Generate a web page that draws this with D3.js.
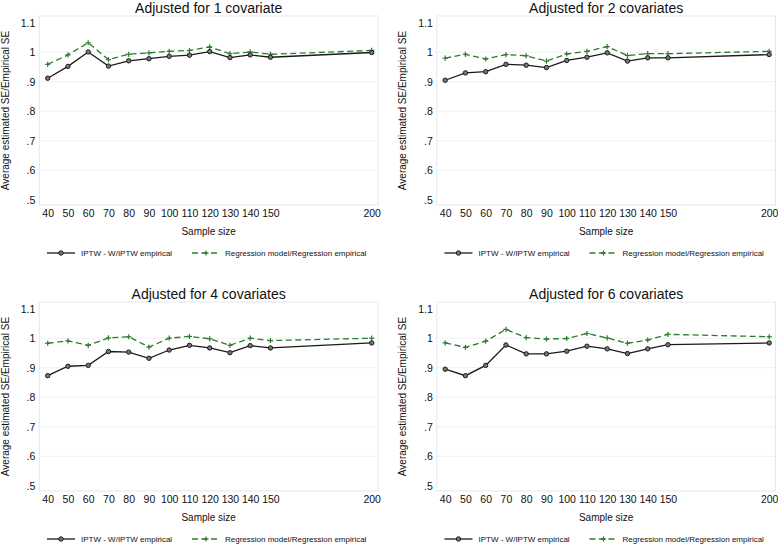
<!DOCTYPE html>
<html>
<head>
<meta charset="utf-8">
<script src="https://cdn.jsdelivr.net/npm/d3@7"></script>
<style>
  html, body { margin: 0; padding: 0; background: #fff; }
  svg { display: block; font-family: "Liberation Sans", Arial, Helvetica, sans-serif; }
</style>
</head>
<body>
<svg id="chart" width="778" height="544"></svg>
<script>
// ---- data ----
const sampleSizes = [40, 50, 60, 70, 80, 90, 100, 110, 120, 130, 140, 150, 200];
const yTicks = [0.5, 0.6, 0.7, 0.8, 0.9, 1.0, 1.1];
const gridTicks = [0.6, 0.7, 0.8, 0.9, 1.0];
const titles = ["Adjusted for 1 covariate", "Adjusted for 2 covariates", "Adjusted for 4 covariates", "Adjusted for 6 covariates"];
const seriesNames = ["IPTW - W/IPTW empirical", "Regression model/Regression empirical"];

const iptw1 = [0.912, 0.952, 1.001, 0.953, 0.971, 0.978, 0.986, 0.990, 1.002, 0.982, 0.991, 0.983, 0.999];
const reg1  = [0.959, 0.991, 1.032, 0.975, 0.993, 0.998, 1.003, 1.006, 1.018, 0.995, 1.001, 0.993, 1.006];
const iptw2 = [0.905, 0.930, 0.934, 0.959, 0.956, 0.948, 0.972, 0.983, 0.998, 0.970, 0.981, 0.981, 0.992];
const reg2  = [0.980, 0.993, 0.977, 0.992, 0.988, 0.970, 0.994, 1.003, 1.019, 0.989, 0.995, 0.995, 1.003];
const iptw4 = [0.873, 0.905, 0.908, 0.955, 0.953, 0.932, 0.960, 0.976, 0.967, 0.951, 0.975, 0.967, 0.984];
const reg4  = [0.983, 0.991, 0.976, 1.001, 1.005, 0.970, 1.000, 1.006, 0.998, 0.976, 1.000, 0.992, 1.000];
const iptw6 = [0.895, 0.873, 0.908, 0.977, 0.947, 0.947, 0.956, 0.973, 0.964, 0.948, 0.964, 0.978, 0.984];
const reg6  = [0.984, 0.969, 0.990, 1.030, 1.002, 0.997, 0.999, 1.016, 1.001, 0.983, 0.994, 1.013, 1.005];

const panelIptw = [iptw1, iptw2, iptw4, iptw6];
const panelReg = [reg1, reg2, reg4, reg6];

// ---- layout ----
const svg = d3.select("#chart");
const frame = { left: 39.3, right: 378, top: 16, bottom: 205 };
const x = d3.scaleLinear().domain([40, 200]).range([47.7, 371.7]);
const y = d3.scaleLinear().domain([0.5, 1.1]).range([199.8, 22.7]);
const fmt = d => d === 1 ? "1" : (d > 1 ? "1.1" : d3.format(".1f")(d).replace(/^0/, ""));
const green = "#2b7d2b";
const dark = "#1a1a1a";

titles.forEach((title, i) => {
  const col = i % 2, row = Math.floor(i / 2);
  const g = svg.append("g").attr("transform", `translate(${col * 397.5},${row * 286})`);

  // frame
  g.append("rect")
    .attr("x", frame.left).attr("y", frame.top)
    .attr("width", frame.right - frame.left).attr("height", frame.bottom - frame.top)
    .attr("fill", "#fff").attr("stroke", "#e3e8ea").attr("stroke-width", 1);

  // grid
  g.selectAll(".grid").data(gridTicks).enter().append("line")
    .attr("x1", frame.left).attr("x2", frame.right)
    .attr("y1", d => y(d)).attr("y2", d => y(d))
    .attr("stroke", "#eef2f3").attr("stroke-width", 1);

  // y axis
  const yAxis = d3.axisLeft(y).tickValues(yTicks).tickFormat(fmt).tickSize(0).tickPadding(4);
  const ya = g.append("g").attr("transform", `translate(${frame.left},0)`).call(yAxis);
  ya.select(".domain").remove();
  ya.selectAll("text").attr("font-size", "10.5px").attr("fill", "#111")
    .attr("font-family", "Liberation Sans, Arial, sans-serif");

  // x axis
  const xAxis = d3.axisBottom(x).tickValues(sampleSizes).tickFormat(d3.format("d")).tickSize(0).tickPadding(5);
  const xa = g.append("g").attr("transform", `translate(0,${frame.bottom})`).call(xAxis);
  xa.select(".domain").remove();
  xa.selectAll("text").attr("font-size", "10.5px").attr("fill", "#111")
    .attr("font-family", "Liberation Sans, Arial, sans-serif");

  // titles
  const cx = (frame.left + frame.right) / 2;
  g.append("text").attr("x", cx).attr("y", 12.5).attr("text-anchor", "middle")
    .attr("font-size", "14px").attr("fill", "#111").text(title);
  g.append("text").attr("x", cx).attr("y", 234.5).attr("text-anchor", "middle")
    .attr("font-size", "10px").attr("fill", "#111").text("Sample size");
  g.append("text")
    .attr("transform", `translate(8.5,${(frame.top + frame.bottom) / 2}) rotate(-90)`)
    .attr("text-anchor", "middle").attr("font-size", "10px").attr("fill", "#111")
    .text("Average estimated SE/Empirical SE");

  const line = d3.line().x((d, k) => x(sampleSizes[k])).y(d => y(d));

  // regression series
  g.append("path").datum(panelReg[i]).attr("d", line)
    .attr("fill", "none").attr("stroke", green).attr("stroke-width", 1.3)
    .attr("stroke-dasharray", "6,3.5");
  const plus = g.selectAll(".plus").data(panelReg[i]).enter().append("g")
    .attr("transform", (d, k) => `translate(${x(sampleSizes[k])},${y(d)})`);
  plus.append("line").attr("x1", -2.6).attr("x2", 2.6).attr("stroke", green).attr("stroke-width", 1.2);
  plus.append("line").attr("y1", -2.6).attr("y2", 2.6).attr("stroke", green).attr("stroke-width", 1.2);

  // IPTW series
  g.append("path").datum(panelIptw[i]).attr("d", line)
    .attr("fill", "none").attr("stroke", dark).attr("stroke-width", 1.3);
  g.selectAll(".dot").data(panelIptw[i]).enter().append("circle")
    .attr("cx", (d, k) => x(sampleSizes[k])).attr("cy", d => y(d)).attr("r", 2.2)
    .attr("fill", "#777").attr("stroke", dark).attr("stroke-width", 1);

  // legend
  const ly = 253;
  const leg = g.append("g");
  leg.append("line").attr("x1", 47).attr("x2", 75).attr("y1", ly).attr("y2", ly)
    .attr("stroke", dark).attr("stroke-width", 1.3);
  leg.append("circle").attr("cx", 61).attr("cy", ly).attr("r", 2.2)
    .attr("fill", "#777").attr("stroke", dark).attr("stroke-width", 1);
  leg.append("text").attr("x", 81).attr("y", ly + 3).attr("font-size", "8px").attr("fill", "#111")
    .text(seriesNames[0]);
  leg.append("line").attr("x1", 192).attr("x2", 220).attr("y1", ly).attr("y2", ly)
    .attr("stroke", green).attr("stroke-width", 1.3).attr("stroke-dasharray", "6,3.5");
  leg.append("line").attr("x1", 203.4).attr("x2", 208.6).attr("y1", ly).attr("y2", ly)
    .attr("stroke", green).attr("stroke-width", 1.2);
  leg.append("line").attr("x1", 206).attr("x2", 206).attr("y1", ly - 2.6).attr("y2", ly + 2.6)
    .attr("stroke", green).attr("stroke-width", 1.2);
  leg.append("text").attr("x", 225).attr("y", ly + 3).attr("font-size", "8px").attr("fill", "#111")
    .text(seriesNames[1]);
});
</script>
</body>
</html>
